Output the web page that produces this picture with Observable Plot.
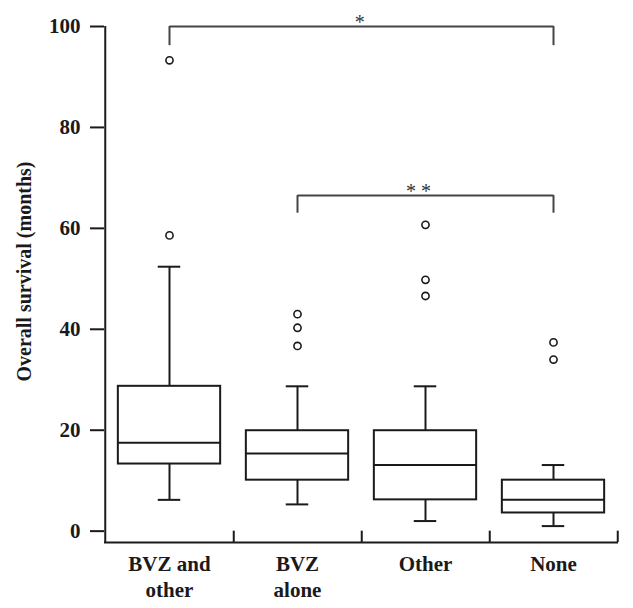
<!DOCTYPE html>
<html>
<head>
<meta charset="utf-8">
<script src="https://cdn.jsdelivr.net/npm/d3@7"></script>
<script src="https://cdn.jsdelivr.net/npm/@observablehq/plot@0.6"></script>
<style>
  html, body { margin: 0; padding: 0; background: #fff; }
  svg text { font-family: "Liberation Serif", "DejaVu Serif", serif; }
</style>
</head>
<body>
<div id="chart"></div>
<script>
// ---- Data ----
const categories = ["BVZ and other", "BVZ alone", "Other", "None"];
const tickLabels = ["BVZ and\nother", "BVZ\nalone", "Other", "None"];
const whiskerLow  = [6.2, 5.3, 2.0, 1.0];
const q1          = [13.3, 10.1, 6.2, 3.6];
const median      = [17.5, 15.4, 13.1, 6.2];
const q3          = [28.7, 19.9, 19.9, 10.1];
const whiskerHigh = [52.4, 28.7, 28.7, 13.1];
const outliers    = [[93.3, 58.6], [43.0, 40.3, 36.7], [60.7, 49.8, 46.6], [37.4, 34.0]];
const yTicks = [0, 20, 40, 60, 80, 100];
const bracketFrom  = ["BVZ and other", "BVZ alone"];
const bracketTo    = ["None", "None"];
const bracketTop   = [100, 66.5];
const bracketDrop  = [96.2, 63.0];
const bracketLabel = ["*", "* *"];
const yLabel = "Overall survival (months)";

// ---- Build tables ----
const boxes = categories.map((c, i) => ({
  cat: c, lo: whiskerLow[i], q1: q1[i], med: median[i], q3: q3[i], hi: whiskerHigh[i]
}));
const outlierPts = outliers.flatMap((vals, i) => vals.map(v => ({cat: categories[i], v})));
const brackets = bracketFrom.map((f, i) => ({
  from: f, to: bracketTo[i], top: bracketTop[i], drop: bracketDrop[i], label: bracketLabel[i]
}));
const bracketEnds = brackets.flatMap(b => [{cat: b.from, top: b.top, drop: b.drop}, {cat: b.to, top: b.top, drop: b.drop}]);

const W = 633, H = 608;
const mL = 104, mR = 15, mT = 26, mB = 66;
const band = (W - mL - mR) / categories.length;
const yMin = -2.25;
const boxInset = band * 0.1;
const capInset = (band - 23) / 2;
const font = "Liberation Serif";
const ink = "#1a1a1a";

const chart = Plot.plot({
  width: W,
  height: H,
  marginLeft: mL,
  marginRight: mR,
  marginTop: mT,
  marginBottom: mB,
  style: {fontFamily: font, background: "#fff", color: ink},
  x: {domain: categories, padding: 0, axis: null},
  y: {domain: [yMin, 100], axis: null},
  marks: [
    // axes lines
    Plot.ruleY([yMin], {stroke: ink, strokeWidth: 2}),
    Plot.ruleX([categories[0]], {dx: -band / 2, y1: yMin, y2: 100, stroke: ink, strokeWidth: 2}),
    // x ticks at category boundaries (upward)
    Plot.ruleX(categories, {dx: band / 2, y1: yMin, y2: 0, stroke: ink, strokeWidth: 2}),
    // y axis ticks & labels
    Plot.axisY(yTicks, {
      anchor: "left", tickSize: 14, tickPadding: 10, stroke: ink, strokeWidth: 2,
      fontSize: 21, fontWeight: "bold", fontFamily: font, label: null, fill: ink
    }),
    // x labels
    Plot.axisX(categories, {
      anchor: "bottom", tickSize: 0, tickPadding: 11, fontSize: 21, fontWeight: "bold", fontFamily: font,
      lineHeight: 1.2, label: null, fill: ink,
      tickFormat: d => tickLabels[categories.indexOf(d)]
    }),
    // y label
    Plot.text([yLabel], {
      frameAnchor: "left", textAnchor: "middle", rotate: -90, dx: -80, dy: -13,
      fontSize: 20, fontWeight: "bold", fontFamily: font, fill: ink
    }),
    // whiskers
    Plot.ruleX(boxes, {x: "cat", y1: "lo", y2: "q1", stroke: ink, strokeWidth: 2}),
    Plot.ruleX(boxes, {x: "cat", y1: "q3", y2: "hi", stroke: ink, strokeWidth: 2}),
    Plot.tickY(boxes, {x: "cat", y: "lo", insetLeft: capInset, insetRight: capInset, stroke: ink, strokeWidth: 2}),
    Plot.tickY(boxes, {x: "cat", y: "hi", insetLeft: capInset, insetRight: capInset, stroke: ink, strokeWidth: 2}),
    // boxes
    Plot.barY(boxes, {x: "cat", y1: "q1", y2: "q3", insetLeft: boxInset, insetRight: boxInset, fill: "#fff", stroke: ink, strokeWidth: 2}),
    Plot.tickY(boxes, {x: "cat", y: "med", insetLeft: boxInset, insetRight: boxInset, stroke: ink, strokeWidth: 2}),
    // outliers
    Plot.dot(outlierPts, {x: "cat", y: "v", r: 3.6, stroke: ink, strokeWidth: 1.6, fill: "#fff"}),
    // significance brackets
    Plot.link(brackets, {x1: "from", x2: "to", y1: "top", y2: "top", stroke: "#444", strokeWidth: 2}),
    Plot.ruleX(bracketEnds, {x: "cat", y1: "drop", y2: "top", stroke: "#444", strokeWidth: 2}),
    Plot.text([brackets[0]], {x: () => categories[1], y: "top", text: "label", dx: band / 2 - 2, dy: 2, fontSize: 20, fontFamily: "DejaVu Sans", fill: "#333", lineAnchor: "bottom"}),
    Plot.text([brackets[1]], {x: () => categories[2], y: "top", text: "label", dx: -7, dy: 2, fontSize: 20, fontFamily: "DejaVu Sans", fill: "#333", lineAnchor: "bottom"})
  ]
});
document.getElementById("chart").appendChild(chart);
</script>
</body>
</html>
